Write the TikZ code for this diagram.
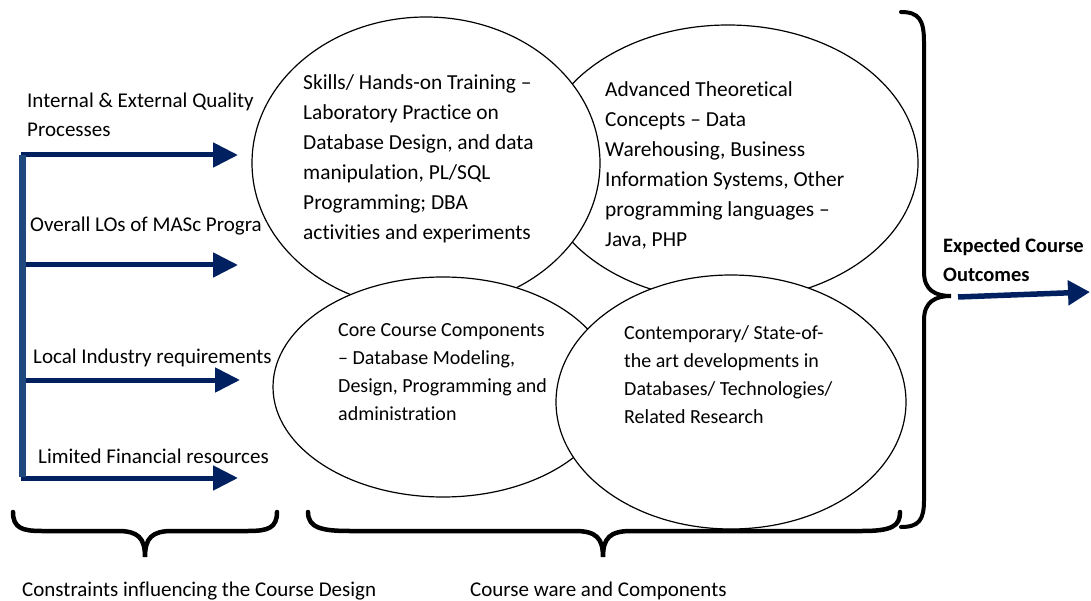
\documentclass[tikz,border=0pt]{standalone}
\usepackage{fontspec}
\setmainfont{Carlito}[Ligatures={TeX,NoCommon}]
\usetikzlibrary{shapes.geometric,arrows.meta}

\definecolor{navy}{HTML}{002060}
\definecolor{barblue}{HTML}{1F497D}

\tikzset{
  oval/.style={ellipse, draw, fill=white, line width=1.2pt, inner sep=0pt},
  bubble/.style={anchor=base west, align=left, inner sep=0pt},
  sidetext/.style={anchor=base west, align=left, inner sep=0pt, font=\fontsize{21}{29}\selectfont},
  feed/.style={navy, line width=5pt, -{Triangle[length=25pt,width=24pt]}},
  curly/.style={line width=4.5pt, line cap=round},
}

\begin{document}
\begin{tikzpicture}[x=1pt,y=-1pt]
  \useasboundingbox (0,0) rectangle (1091,601);

  % constraints
  \node[sidetext] (quality) at (27,136.3) {Internal \& External Quality\\Processes};
  \node[sidetext] (los) at (30,231.3) {Overall LOs of MASc Progra};
  \node[sidetext] (industry) at (33,363.3) {Local Industry requirements};
  \node[sidetext] (finance) at (38,463.3) {Limited Financial resources};

  \coordinate (bar1) at (21,155);
  \coordinate (bar2) at (21,265);
  \coordinate (bar3) at (21,380);
  \coordinate (bar4) at (21,478);
  \coordinate (tip1) at (238,155);
  \coordinate (tip2) at (238,265);
  \coordinate (tip3) at (240,380);
  \coordinate (tip4) at (238,478);
  \draw[feed] (bar1) -- (tip1);
  \draw[feed] (bar2) -- (tip2);
  \draw[feed] (bar3) -- (tip3);
  \draw[feed] (bar4) -- (tip4);
  \draw[barblue, line width=7pt] (22.7,155) -- (22.7,477);

  % course ware
  \node[oval, minimum width=380pt, minimum height=276pt] (advanced) at (728,163) {};
  \node[oval, minimum width=348pt, minimum height=292pt] (skills) at (426,163) {};
  \node[oval, minimum width=340pt, minimum height=220pt] (core) at (443,387) {};
  \node[oval, minimum width=350pt, minimum height=254pt] (contemporary) at (731,402) {};

  \node[bubble, font=\fontsize{21.4}{30}\selectfont] (skillstext) at (303,239.5)
    {Skills/ Hands-on Training –\\Laboratory Practice on\\Database Design, and data\\manipulation, PL/SQL\\Programming; DBA\\activities and experiments};
  \node[bubble, font=\fontsize{21.4}{30}\selectfont] (advancedtext) at (605,246.5)
    {Advanced Theoretical\\Concepts – Data\\Warehousing, Business\\Information Systems, Other\\programming languages –\\Java, PHP};
  \node[bubble, font=\fontsize{20}{28}\selectfont] (coretext) at (338,420)
    {Core Course Components\\– Database Modeling,\\Design, Programming and\\administration};
  \node[bubble, font=\fontsize{20}{28}\selectfont] (contemptext) at (624,423)
    {Contemporary/ State-of-\\the art developments in\\Databases/ Technologies/\\Related Research};

  % braces
  \draw[curly] (13,512) .. controls (13,528) and (22,531) .. (42,531) -- (118,531)
    .. controls (138,531) and (145,538) .. (145,557)
    .. controls (145,538) and (152,531) .. (172,531) -- (248,531)
    .. controls (268,531) and (277,528) .. (277,512);
  \draw[curly] (308,512) .. controls (308,528) and (322,531) .. (350,531) -- (575,531)
    .. controls (596,531) and (603,538) .. (603,557)
    .. controls (603,538) and (610,531) .. (631,531) -- (862,531)
    .. controls (892,531) and (900,526) .. (900,512);
  \draw[curly, line width=4pt] (901,12) .. controls (919,12) and (924,20) .. (924,42) -- (924,272)
    .. controls (924,290) and (935,296) .. (951,296)
    .. controls (935,296) and (924,302) .. (924,320) -- (924,500)
    .. controls (924,520) and (919,527) .. (901,527);

  \node[sidetext] (constraints) at (22,596.3) {Constraints influencing the Course Design};
  \node[sidetext] (courseware) at (470,596.3) {Course ware and Components};

  % outcome
  \node[bubble, font=\bfseries\fontsize{20.5}{29}\selectfont] (expected) at (943,282)
    {Expected Course\\Outcomes};
  \coordinate (outstart) at (958,297);
  \coordinate (outtip) at (1090,292);
  \draw[feed, line width=5.5pt, -{Triangle[length=22pt,width=24pt]}] (outstart) -- (outtip);
\end{tikzpicture}
\end{document}
